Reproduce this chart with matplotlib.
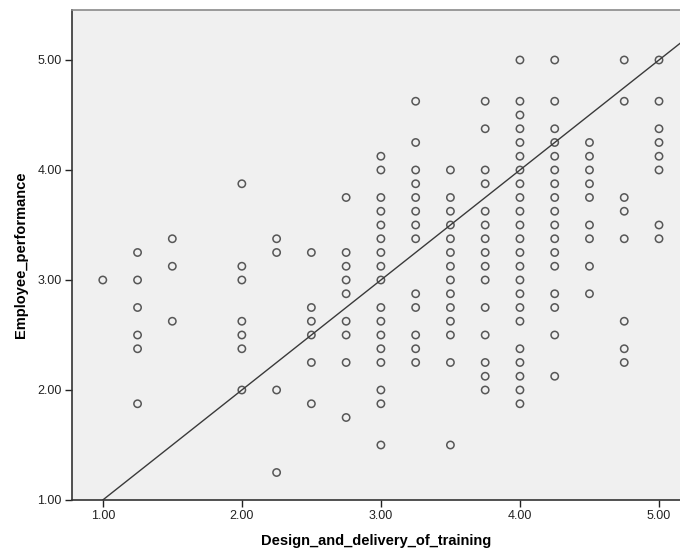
import matplotlib
matplotlib.use("Agg")
import matplotlib.pyplot as plt
import numpy as np

plt.rcParams['font.family'] = ['Liberation Sans', 'DejaVu Sans']

# Design_and_delivery_of_training value -> Employee_performance values
x_levels = [1.00, 1.25, 1.50, 2.00, 2.25, 2.50, 2.75, 3.00, 3.25, 3.50,
            3.75, 4.00, 4.25, 4.50, 4.75, 5.00]
y_at_100 = [3.0]
y_at_125 = [3.25, 3.0, 2.75, 2.5, 2.375, 1.875]
y_at_150 = [3.375, 3.125, 2.625]
y_at_200 = [3.875, 3.125, 3.0, 2.625, 2.5, 2.375, 2.0]
y_at_225 = [3.375, 3.25, 2.0, 1.25]
y_at_250 = [3.25, 2.75, 2.625, 2.5, 2.25, 1.875]
y_at_275 = [3.75, 3.25, 3.125, 3.0, 2.875, 2.625, 2.5, 2.25, 1.75]
y_at_300 = [4.125, 4.0, 3.75, 3.625, 3.5, 3.375, 3.25, 3.125, 3.0,
            2.75, 2.625, 2.5, 2.375, 2.25, 2.0, 1.875, 1.5]
y_at_325 = [4.625, 4.25, 4.0, 3.875, 3.75, 3.625, 3.5, 3.375, 2.875,
            2.75, 2.5, 2.375, 2.25]
y_at_350 = [4.0, 3.75, 3.625, 3.5, 3.375, 3.25, 3.125, 3.0, 2.875,
            2.75, 2.625, 2.5, 2.25, 1.5]
y_at_375 = [4.625, 4.375, 4.0, 3.875, 3.625, 3.5, 3.375, 3.25, 3.125,
            3.0, 2.75, 2.5, 2.25, 2.125, 2.0]
y_at_400 = [5.0, 4.625, 4.5, 4.375, 4.25, 4.125, 4.0, 3.875, 3.75, 3.625,
            3.5, 3.375, 3.25, 3.125, 3.0, 2.875, 2.75, 2.625, 2.375, 2.25,
            2.125, 2.0, 1.875]
y_at_425 = [5.0, 4.625, 4.375, 4.25, 4.125, 4.0, 3.875, 3.75, 3.625, 3.5,
            3.375, 3.25, 3.125, 2.875, 2.75, 2.5, 2.125]
y_at_450 = [4.25, 4.125, 4.0, 3.875, 3.75, 3.5, 3.375, 3.125, 2.875]
y_at_475 = [5.0, 4.625, 3.75, 3.625, 3.375, 2.625, 2.375, 2.25]
y_at_500 = [5.0, 4.625, 4.375, 4.25, 4.125, 4.0, 3.5, 3.375]

y_groups = [y_at_100, y_at_125, y_at_150, y_at_200, y_at_225, y_at_250,
            y_at_275, y_at_300, y_at_325, y_at_350, y_at_375, y_at_400,
            y_at_425, y_at_450, y_at_475, y_at_500]

fit_intercept = 0.0
fit_slope = 1.0

x_ticks = [1.0, 2.0, 3.0, 4.0, 5.0]
y_ticks = [1.0, 2.0, 3.0, 4.0, 5.0]
x_label = "Design_and_delivery_of_training"
y_label = "Employee_performance"

xs = []
ys = []
for xv, grp in zip(x_levels, y_groups):
    for yv in grp:
        xs.append(xv)
        ys.append(yv)

fig = plt.figure(figsize=(6.8, 5.54), dpi=100)
ax = fig.add_axes([71.5 / 680, 54 / 554, (680 - 71.5) / 680, 490 / 554])
ax.set_facecolor('#F0F0F0')

ax.set_xlim(0.775, 5.151)
ax.set_ylim(1.0, 5.4545)

xl = np.array(ax.get_xlim())
ax.plot(xl, fit_intercept + fit_slope * xl, color='#3a3a3a', lw=1.0, zorder=2)

ax.scatter(xs, ys, s=28, facecolors='none', edgecolors='#3c3c3c',
           linewidths=1.1, alpha=0.85, zorder=3, clip_on=False)

ax.set_xticks(x_ticks)
ax.set_yticks(y_ticks)
ax.set_xticklabels([f"{v:.2f}" for v in x_ticks])
ax.set_yticklabels([f"{v:.2f}" for v in y_ticks])
ax.tick_params(axis='both', direction='out', length=5, width=1,
               color='#222222', labelsize=9, labelcolor='#222222', pad=2)

for side in ['left', 'bottom']:
    ax.spines[side].set_color('#333333')
    ax.spines[side].set_linewidth(1.2)
ax.spines['top'].set_color('#8a8a8a')
ax.spines['top'].set_linewidth(1.2)
ax.spines['right'].set_visible(False)

ax.set_xlabel(x_label, fontsize=10.5, fontweight='bold', labelpad=9)
ax.set_ylabel(y_label, fontsize=10.5, fontweight='bold', labelpad=7)

fig.savefig('out.png', dpi=100, facecolor='white')
